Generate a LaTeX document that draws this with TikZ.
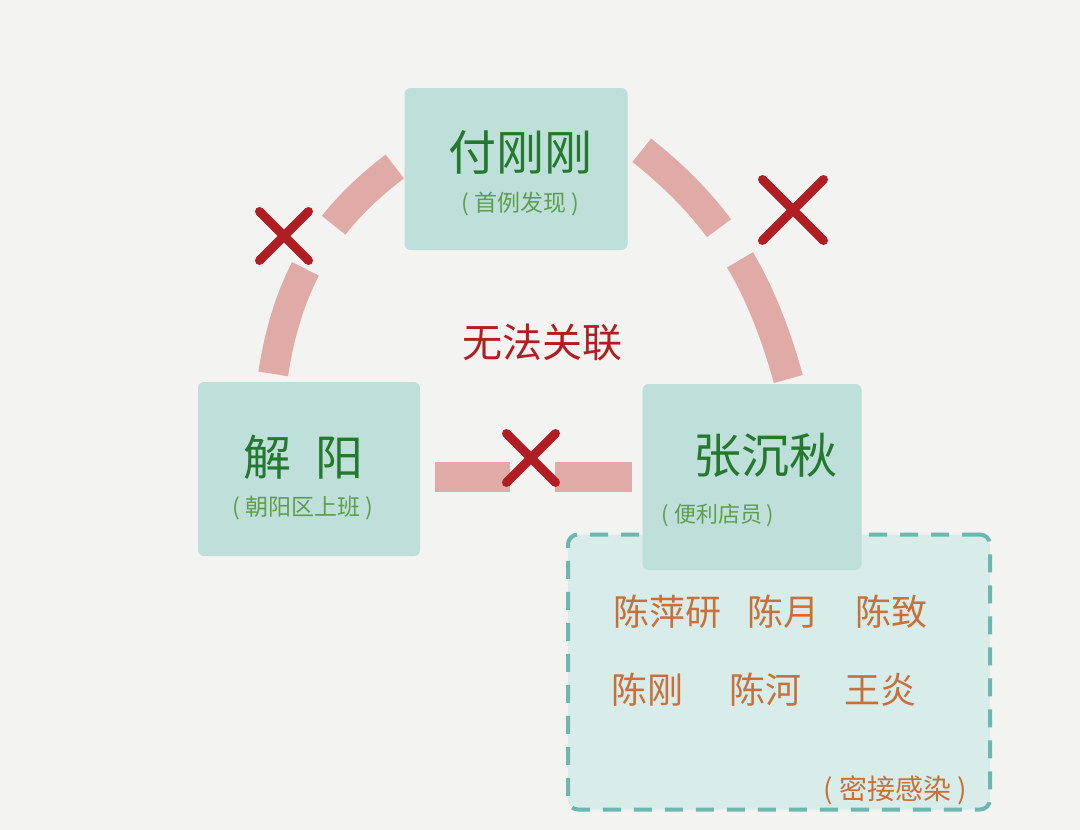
\documentclass[tikz,border=0pt]{standalone}
\usepackage{fontspec}
\setmainfont{Noto Sans CJK SC}
\usetikzlibrary{positioning, shapes.misc}
\definecolor{paper}{HTML}{F3F3F1}
\definecolor{boxteal}{HTML}{BEDFDA}
\definecolor{groupteal}{HTML}{D8ECE9}
\definecolor{dashteal}{HTML}{6CB8B0}
\definecolor{linkpink}{HTML}{E0AAA6}
\definecolor{crossred}{HTML}{B01E23}
\definecolor{namegreen}{HTML}{24792F}
\definecolor{notegreen}{HTML}{5E9E4F}
\definecolor{contactorange}{HTML}{C8703A}

\begin{document}
\begin{tikzpicture}[
  x=1pt, y=-1pt,
  box/.style={fill=boxteal, rounded corners=6pt, inner sep=0pt},
  group/.style={fill=groupteal, draw=dashteal, line width=4pt,
    dash pattern=on 18pt off 13pt, rounded corners=10pt, inner sep=0pt},
  person/.style={text=namegreen, font=\fontsize{48}{54}\selectfont, inner sep=0pt},
  note/.style={text=notegreen, font=\fontsize{23}{26}\selectfont, inner sep=0pt},
  contact/.style={text=contactorange, font=\fontsize{36}{40}\selectfont, inner sep=0pt},
  link/.style={draw=linkpink, line width=30pt, line cap=butt},
  nolink/.style={cross out, draw=crossred, line width=9pt, line cap=round,
    minimum size=40pt, inner sep=0pt},
]
\fill[paper] (0,0) rectangle (1080,830);

% close contacts group (under the right box)
\node[group, minimum width=422pt, minimum height=275pt] (close) at (779,672) {};

% the three cases
\node[box, minimum width=223pt, minimum height=162pt] (fu) at (516,169) {};
\node[box, minimum width=222pt, minimum height=174pt] (xie) at (309,469) {};
\node[box, minimum width=219pt, minimum height=186pt] (zhang) at (752,477) {};

\node[person] (fuName) at (520,152) {付刚刚};
\node[note, below=18pt of fuName] (fuNote) {( 首例发现 )};
\node[person] (xieName) at (303,457) {解\hspace{0.5em}阳};
\node[note, below=17pt of xieName] (xieNote) {( 朝阳区上班 )};
\node[person] (zhangName) at (765,455) {张沉秋};
\node[note, font=\fontsize{22}{24}\selectfont] (zhangNote) at (718,515) {( 便利店员 )};

% contacts
\node[contact] (c1) at (667,612) {陈萍研};
\node[contact] (c2) at (783,612) {陈月};
\node[contact] (c3) at (891,612) {陈致};
\node[contact] (c4) at (647,690) {陈刚};
\node[contact] (c5) at (765,690) {陈河};
\node[contact] (c6) at (880,690) {王炎};
\node[contact, font=\fontsize{28}{30}\selectfont] (cNote) at (895,790) {( 密接感染 )};

\node[text=crossred, font=\fontsize{40}{44}\selectfont] (nolinkText) at (542,342) {无法关联};

% broken links
\draw[link, dash pattern=on 85pt off 52pt on 220pt, shorten <=12pt, shorten >=8pt]
  (fu.175) to[bend right=22] (xie.113);
\draw[link, dash pattern=on 110pt off 38pt on 220pt, shorten <=18pt, shorten >=5pt]
  (fu.15) to[bend left=18] (zhang.68);
\draw[link, dash pattern=on 75pt off 45pt on 120pt, shorten <=15pt, shorten >=10pt]
  (xie.east |- zhang.west) -- (zhang.west);

\node[nolink] (x1) at (284,236) {};
\node[nolink, minimum size=52pt] (x2) at (793,210) {};
\node[nolink] (x3) at (531,458) {};

\end{tikzpicture}
\end{document}
